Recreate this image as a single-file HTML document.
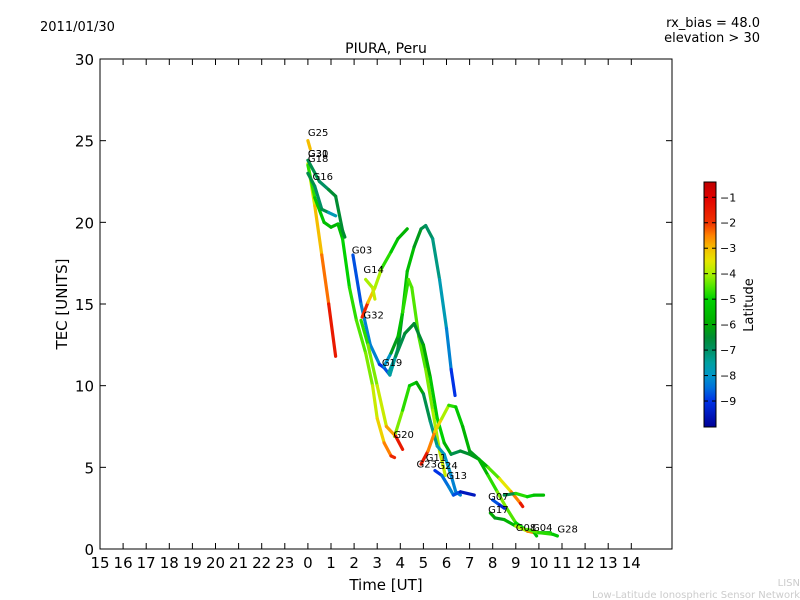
<!DOCTYPE html>
<html><head><meta charset="utf-8"><style>
html,body{margin:0;padding:0;background:#fff;}
svg{display:block;font-family:"DejaVu Sans","Liberation Sans",sans-serif;}
</style></head><body>
<svg id="chart" width="800" height="600" viewBox="0 0 800 600">
<defs>
<linearGradient id="jet" x1="0" y1="1" x2="0" y2="0"></linearGradient>
</defs>
<text x="40" y="31" font-size="13">2011/01/30</text>
<text x="760" y="27" font-size="13" text-anchor="end">rx_bias = 48.0</text>
<text x="760" y="42" font-size="13" text-anchor="end">elevation &gt; 30</text>
<text x="386" y="53" font-size="14" text-anchor="middle">PIURA, Peru</text>
<rect x="100" y="59" width="572" height="490" fill="none" stroke="#000" stroke-width="1"/>
<g id="tracks"></g>
<g id="axes"></g>
<g id="labels"></g>
<text x="386" y="590" font-size="15" text-anchor="middle">Time [UT]</text>
<text transform="translate(67,304) rotate(-90)" font-size="15" text-anchor="middle">TEC [UNITS]</text>
<rect x="704" y="182" width="12" height="245" fill="url(#jet)" stroke="#000" stroke-width="1"/>
<g id="cbar"></g>
<text transform="translate(753,305) rotate(-90)" font-size="13" text-anchor="middle">Latitude</text>
<text x="800" y="586" font-size="10" fill="#ccc" text-anchor="end">LISN</text>
<text x="800" y="598" font-size="10" fill="#ccc" text-anchor="end">Low-Latitude Ionospheric Sensor Network</text>
</svg>
<script>
const tracks = {
 G25:[[0,25,-3],[0.1,24.5,-3]],
 G18:[[0,23.6,-4],[0.3,21,-3.2],[0.6,18,-2.8],[0.9,15,-2],[1.2,11.8,-1]],
 G30:[[0,23.5,-4.5],[0.3,21.5,-5],[0.7,20,-5.5],[1.0,19.7,-5.5],[1.3,19.9,-6],[1.5,19,-5],[1.8,16,-5],[2.1,14,-4.5],[2.5,12,-4.5],[2.8,10,-4],[3.0,8,-3.5],[3.3,6.5,-3],[3.6,5.7,-2],[3.75,5.6,-1.5]],
 G16:[[0,23,-6],[0.3,22.2,-7.5],[0.6,20.8,-6.5],[0.9,20.6,-7],[1.2,20.4,-8.5]],
 G31:[[0,23.8,-6],[0.5,22.5,-7.5],[0.9,22,-6.5],[1.2,21.6,-6.5],[1.5,19.5,-6.5],[1.6,19.1,-6.5]],
 G03:[[1.95,18,-9],[2.3,15,-8.5],[2.7,12.5,-8],[3.1,11.3,-8.5],[3.3,11.1,-9.5],[3.55,10.65,-8],[3.9,12.3,-7],[4.1,14.5,-6],[4.3,17,-5],[4.6,18.5,-6],[4.9,19.6,-6.5],[5.1,19.8,-7],[5.4,19,-7],[5.7,16.5,-7.5],[6.0,13.5,-8],[6.2,11,-8.5],[6.37,9.4,-9.5]],
 G32:[[2.35,14.2,-1],[2.6,15.1,-2.5],[2.9,16,-3.5],[3.2,17.2,-4.5],[3.6,18.2,-5],[3.9,19,-5.5],[4.3,19.6,-6]],
 G14:[[2.5,16.5,-4],[2.8,16,-4],[2.9,15.3,-3.5]],
 G19:[[3.3,11.2,-9.5],[3.6,12,-6.5],[3.9,13,-6],[4.1,14.5,-5],[4.35,16.5,-4.5],[4.5,16,-4.5],[4.8,13,-4.5],[5.1,11,-4.5],[5.4,8.5,-4],[5.7,6,-4],[5.95,4.5,-3.5]],
 G10:[[3.5,10.8,-8],[3.8,11.8,-7],[4.2,13.2,-6.5],[4.6,13.8,-6.5],[5.0,12.5,-6.5],[5.3,10.5,-5.5],[5.6,8,-5],[5.9,6.5,-5],[6.2,5.8,-6.5],[6.6,6,-7],[7.0,5.8,-6],[7.4,5.5,-6.5],[7.8,4.5,-5],[8.2,3.5,-4.5],[8.6,2.5,-4],[9.0,1.6,-5],[9.5,1.1,-5],[10.0,1.0,-6],[10.5,1.0,-5]],
 G20:[[3.75,6.9,-4],[4.1,8.5,-4.5],[4.4,10,-5],[4.7,10.2,-5.5],[5.0,9.5,-6.5],[5.3,7.8,-7],[5.6,6.3,-7.5],[5.9,5.8,-8],[6.2,4.5,-8],[6.4,3.5,-8.5],[6.6,3.3,-8]],
 G20b:[[2.3,14,-5],[2.6,12.5,-4.5],[3.0,10,-4],[3.4,7.5,-3.5],[3.8,6.9,-2],[4.1,6.1,-1]],
 G23:[[4.9,5.2,-1],[5.2,6,-2],[5.5,7.2,-3],[5.8,8,-3.5],[6.1,8.8,-4.5],[6.4,8.7,-5],[6.7,7.5,-5.5],[7.0,6,-6],[7.4,5.5,-6.5],[7.8,5,-5],[8.3,4.3,-4],[8.8,3.5,-3],[9.2,2.8,-2],[9.3,2.6,-1]],
 G24:[[5.5,4.8,-9.5],[5.8,4.5,-8.5],[6.1,3.8,-8.5],[6.3,3.3,-8],[6.6,3.5,-9.5],[7.2,3.3,-9.5]],
 G07:[[8.0,3,-8.5],[8.3,2.7,-9],[8.5,2.5,-9.5]],
 G17:[[7.9,2.2,-6],[8.1,1.9,-6],[8.5,1.8,-6.5],[9.0,1.4,-5],[9.5,1.1,-3],[9.8,1.0,-2],[9.9,0.8,-9]],
 G28:[[8.5,3.3,-8],[9.0,3.4,-5.5],[9.5,3.2,-4],[9.8,3.3,-6],[10.2,3.3,-5]],
 G04:[[9.5,1.2,-4],[10,1.0,-5],[10.6,0.9,-4.5],[10.8,0.8,-6]]
};
const prnLabels = ["G25","G30","G31","G18","G16","G03","G14","G32","G19","G20","G11","G23","G24","G13","G07","G17","G08","G04","G28"];
const labelT = [0,0,0,0,0.2,1.9,2.4,2.4,3.2,3.7,5.1,4.7,5.6,6.0,7.8,7.8,9.0,9.7,10.8];
const labelV = [25.3,24,24,23.7,22.6,18.1,16.9,14.1,11.2,6.8,5.4,5.0,4.9,4.3,3.0,2.2,1.1,1.1,1.0];
const xTickLabels = ["15","16","17","18","19","20","21","22","23","0","1","2","3","4","5","6","7","8","9","10","11","12","13","14"];
const yTicks = [0,5,10,15,20,25,30];
const cbTicks = [-1,-2,-3,-4,-5,-6,-7,-8,-9];

const NS="http://www.w3.org/2000/svg";
const xs = t => 100 + (t + 9) * 23.1;
const ys = v => 549 - v * 16.333;
const cbMin=-10.02, cbMax=-0.4;
const cbY = v => 427 - (v - cbMin) / (cbMax - cbMin) * 245;
const cmapStops=[[-10.02,[0,0,150]],[-9,[0,50,230]],[-8.5,[0,110,220]],[-8,[0,150,200]],[-7.5,[0,160,160]],[-7,[0,145,100]],[-6.5,[0,140,50]],[-6,[0,170,0]],[-5,[0,210,0]],[-4.5,[80,230,0]],[-4,[170,240,0]],[-3.5,[230,230,0]],[-3,[245,190,0]],[-2.5,[255,130,0]],[-2,[240,50,0]],[-1,[225,0,0]],[-0.4,[190,0,0]]];
function cmap(lat){
 lat=Math.max(cbMin,Math.min(cbMax,lat));
 for(let i=0;i<cmapStops.length-1;i++){
  const [a,ca]=cmapStops[i],[b,cb]=cmapStops[i+1];
  if(lat<=b){const f=(lat-a)/(b-a);return 'rgb('+ca.map((c,k)=>Math.round(c+(cb[k]-c)*f)).join(',')+')';}
 }
 return 'rgb(190,0,0)';
}
function mk(tag,attrs,parent){const e=document.createElementNS(NS,tag);for(const k in attrs)e.setAttribute(k,attrs[k]);parent.appendChild(e);return e;}
const grad=document.getElementById('jet');
cmapStops.forEach(s=>mk('stop',{offset:(s[0]-cbMin)/(cbMax-cbMin),'stop-color':'rgb('+s[1].join(',')+')'},grad));
const gT=document.getElementById('tracks');
for(const name in tracks){
 const pts=tracks[name];
 const g=mk('g',{},gT);
 
 
 for(let i=0;i<pts.length-1;i++){
  const a=pts[i],b=pts[i+1];
  const l=mk('line',{x1:xs(a[0]),y1:ys(a[1]),x2:xs(b[0]),y2:ys(b[1]),stroke:cmap((a[2]+b[2])/2),'stroke-width':3.2,'stroke-linecap':'round'},g);
  
  
 }
}
const gL=document.getElementById('labels');
prnLabels.forEach((p,i)=>{
 const t=mk('text',{x:xs(labelT[i]),y:ys(labelV[i]),'font-size':10},gL);
 t.textContent=p;
 
 
});
const gA=document.getElementById('axes');
xTickLabels.forEach((lab,i)=>{
 const x=xs(i-9);
 mk('line',{x1:x,y1:549,x2:x,y2:543,stroke:'#000'},gA);
 mk('line',{x1:x,y1:59,x2:x,y2:65,stroke:'#000'},gA);
 const t=mk('text',{x:x,y:568,'font-size':15,'text-anchor':'middle'},gA);
 t.textContent=lab;
 
 
});
yTicks.forEach(v=>{
 const y=ys(v);
 mk('line',{x1:100,y1:y,x2:106,y2:y,stroke:'#000'},gA);
 mk('line',{x1:672,y1:y,x2:666,y2:y,stroke:'#000'},gA);
 const t=mk('text',{x:94,y:y+6,'font-size':15,'text-anchor':'end'},gA);
 t.textContent=v;
 
 
});
const gC=document.getElementById('cbar');
cbTicks.forEach(v=>{
 const y=cbY(v);
 mk('line',{x1:704,y1:y,x2:708,y2:y,stroke:'#000'},gC);
 mk('line',{x1:716,y1:y,x2:712,y2:y,stroke:'#000'},gC);
 const t=mk('text',{x:720,y:y+4,'font-size':11},gC);
 t.textContent='\u2212'+Math.abs(v);
 
 
});
</script>
</body></html>
